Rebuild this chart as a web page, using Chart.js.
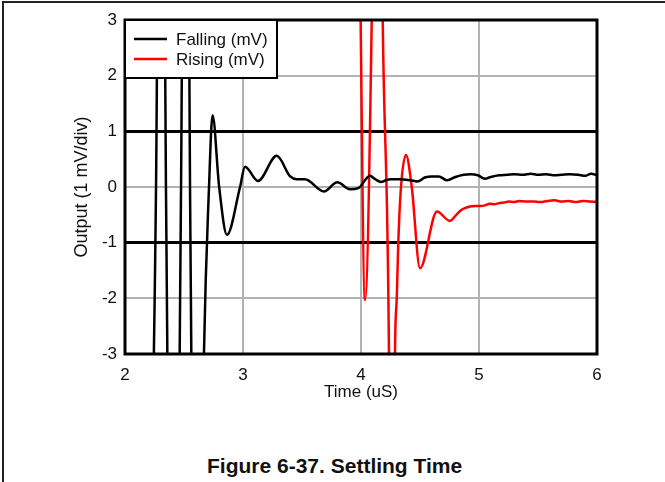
<!DOCTYPE html>
<html>
<head>
<meta charset="utf-8">
<script src="https://cdn.jsdelivr.net/npm/chart.js@4.4.1/dist/chart.umd.min.js"></script>
<style>
  body { margin: 0; background: #fff; }
  #frame { position: absolute; left: 2px; top: 1px; width: 700px; height: 500px;
           border-top: 2px solid #222; border-left: 2px solid #222; }
  #plot { position: absolute; left: 0; top: 0; }
  #caption { position: absolute; left: 207px; top: 454px; line-height: 24px;
             font: bold 21px Arial, "Liberation Sans", sans-serif; color: #111; white-space: nowrap; }
</style>
</head>
<body>
<div id="frame"></div>
<canvas id="plot" width="665" height="420"></canvas>
<div id="caption">Figure 6-37. Settling Time</div>
<script>
// time in uS, output in mV (1 mV/div)
const fallTime = [2.15, 2.263, 2.305, 2.347, 2.41, 2.475, 2.513, 2.551, 2.61, 2.669, 2.712, 2.742,
  2.798, 2.864, 2.975, 3.017, 3.127, 3.286, 3.40, 3.455, 3.525, 3.686, 3.799, 3.907, 3.977,
  4.076, 4.12, 4.17, 4.21, 4.25, 4.33, 4.42, 4.48, 4.54, 4.60, 4.66, 4.73, 4.80, 4.87, 4.93,
  4.99, 5.05, 5.10, 5.17, 5.24, 5.30, 5.37, 5.44, 5.50, 5.57, 5.64, 5.70, 5.77, 5.84, 5.90, 5.95, 6.00];
const fallOut = [-12, 0, 12, 0, -12, 0, 12, 0, -12, -3, 0, 1.29,
  0, -0.86, 0, 0.365, 0.11, 0.56, 0.19, 0.14, 0.14, -0.08, 0.085, -0.04, -0.02,
  0.20, 0.14, 0.09, 0.12, 0.14, 0.14, 0.12, 0.10, 0.17, 0.19, 0.19, 0.12, 0.18, 0.22, 0.23,
  0.21, 0.15, 0.18, 0.21, 0.22, 0.23, 0.22, 0.24, 0.22, 0.23, 0.21, 0.22, 0.23, 0.22, 0.20, 0.24, 0.21];

const riseTime = [3.96, 3.997, 4.034, 4.091, 4.14, 4.184, 4.237, 4.262, 4.288, 4.303, 4.316, 4.339,
  4.381, 4.43, 4.50, 4.644, 4.754, 4.80, 4.839, 4.88, 4.924, 4.97, 5.008, 5.05, 5.09, 5.13,
  5.17, 5.21, 5.25, 5.30, 5.34, 5.40, 5.46, 5.52, 5.58, 5.64, 5.70, 5.76, 5.82, 5.88, 5.94, 6.00];
const riseOut = [12, 3, -2.03, 3, 12, 3, -3, -12, -3, -2, -1, 0,
  0.575, 0, -1.46, -0.44, -0.61, -0.52, -0.43, -0.38, -0.35, -0.34, -0.34, -0.33, -0.30, -0.31,
  -0.29, -0.28, -0.26, -0.27, -0.25, -0.26, -0.26, -0.27, -0.25, -0.24, -0.26, -0.25, -0.27, -0.25, -0.26, -0.27];

const xTicks = [2, 3, 4, 5, 6];
const yTicks = [-3, -2, -1, 0, 1, 2, 3];

const toPoints = (xs, ys) => xs.map((x, i) => ({ x: x, y: ys[i] }));

const FONT = 'Arial, "Liberation Sans", sans-serif';
Chart.defaults.font.family = FONT;
Chart.defaults.color = '#111';

// boxed legend in the top-left corner plus the black plot frame
const boxLegend = {
  id: 'boxLegend',
  afterDraw(chart) {
    const { ctx, chartArea: a } = chart;
    ctx.save();
    ctx.strokeStyle = '#000';
    ctx.lineWidth = 3;
    ctx.strokeRect(a.left, a.top, a.right - a.left, a.bottom - a.top);

    ctx.fillStyle = '#fff';
    ctx.fillRect(a.left, a.top, 152, 58);
    ctx.lineWidth = 2;
    ctx.strokeRect(a.left, a.top, 152, 58);

    ctx.font = '17px ' + FONT;
    ctx.textBaseline = 'middle';
    chart.data.datasets.forEach((ds, i) => {
      const y = a.top + 19 + i * 20;
      ctx.strokeStyle = ds.borderColor;
      ctx.lineWidth = 2.5;
      ctx.beginPath();
      ctx.moveTo(a.left + 9, y);
      ctx.lineTo(a.left + 42, y);
      ctx.stroke();
      ctx.fillStyle = '#111';
      ctx.fillText(ds.label, a.left + 51, y + 1);
    });
    ctx.restore();
  }
};

new Chart(document.getElementById('plot'), {
  type: 'line',
  data: {
    datasets: [
      {
        label: 'Falling (mV)',
        data: toPoints(fallTime, fallOut),
        borderColor: '#000000',
        borderWidth: 2.5,
        pointRadius: 0,
        cubicInterpolationMode: 'monotone',
        clip: 0,
      },
      {
        label: 'Rising (mV)',
        data: toPoints(riseTime, riseOut),
        borderColor: '#ff0000',
        borderWidth: 2.5,
        pointRadius: 0,
        cubicInterpolationMode: 'monotone',
        clip: 0,
      },
    ],
  },
  options: {
    responsive: false,
    animation: false,
    events: [],
    layout: { padding: { left: 0, top: 20, right: 68, bottom: 0 } },
    plugins: {
      legend: { display: false },
      tooltip: { enabled: false },
    },
    scales: {
      x: {
        type: 'linear',
        min: 2,
        max: 6,
        afterFit: (s) => { s.height = 66; },
        afterBuildTicks: (s) => { s.ticks = xTicks.map(v => ({ value: v })); },
        ticks: { padding: 11, font: { size: 17 }, color: '#111' },
        grid: { drawTicks: false, color: '#b3b3b3', lineWidth: 2 },
        border: { display: false },
        title: { display: true, text: 'Time (uS)', font: { size: 17 }, color: '#111',
                 padding: { top: 0, bottom: 17 } },
      },
      y: {
        min: -3,
        max: 3,
        afterFit: (s) => { s.width = 125; },
        afterBuildTicks: (s) => { s.ticks = yTicks.map(v => ({ value: v })); },
        ticks: { padding: 8, font: { size: 17 }, color: '#111' },
        grid: {
          drawTicks: false,
          color: (c) => Math.abs(c.tick.value) === 1 ? '#000' : '#b3b3b3',
          lineWidth: (c) => Math.abs(c.tick.value) === 1 ? 3 : 2,
        },
        border: { display: false },
        title: { display: true, text: 'Output (1 mV/div)', font: { size: 18 }, color: '#111',
                 padding: { top: 71, bottom: 0 } },
      },
    },
  },
  plugins: [boxLegend],
});
</script>
</body>
</html>
